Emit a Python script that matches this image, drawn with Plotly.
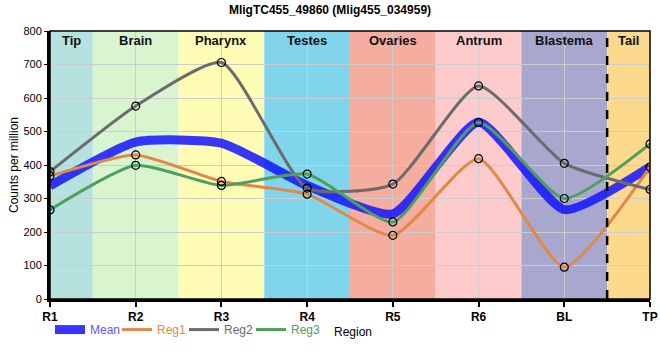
import plotly.graph_objects as go

categories = ["R1", "R2", "R3", "R4", "R5", "R6", "BL", "TP"]
reg1 = [367, 430, 351, 313, 190, 419, 95, 394]
reg2 = [380, 576, 706, 331, 343, 636, 405, 327]
reg3 = [266, 399, 339, 373, 230, 527, 300, 463]
mean = [round((a + b + c) / 3, 1) for a, b, c in zip(reg1, reg2, reg3)]

regions = ["Tip", "Brain", "Pharynx", "Testes", "Ovaries", "Antrum", "Blastema", "Tail"]
region_colors = ["#b5e2df", "#d9f5cf", "#fffdb5", "#80d5ec", "#f5ad9f", "#fdcbcb", "#a8a8cf", "#fdd98d"]

xs = list(range(len(categories)))
fig = go.Figure()

for i, (name, col) in enumerate(zip(regions, region_colors)):
    x0 = max(i - 0.5, 0)
    x1 = min(i + 0.5, len(categories) - 1)
    fig.add_shape(type="rect", xref="x", yref="paper", x0=x0, x1=x1, y0=0, y1=1,
                  fillcolor=col, line_width=0, layer="below")
    fig.add_annotation(x=(x0 + x1) / 2, y=1, xref="x", yref="paper", yanchor="top", yshift=0,
                       text="<b>" + name + "</b>", showarrow=False,
                       font=dict(size=13, color="#111", family="Arial"))

fig.add_shape(type="line", xref="x", yref="paper", x0=6.5, x1=6.5, y0=0, y1=1,
              line=dict(color="black", width=2.5, dash="dash"), layer="above")

SM = 0.55
fig.add_trace(go.Scatter(x=xs, y=mean, mode="lines", name="<span style='color:#5a5aff'>Mean</span>",
                         line=dict(color="rgba(20,20,255,0.85)", width=9, shape="spline", smoothing=SM)))
series = [("Reg1", reg1, "#e0884a"), ("Reg2", reg2, "#6b6b6b"), ("Reg3", reg3, "#4e9e5e")]
for name, vals, col in series:
    fig.add_trace(go.Scatter(x=xs, y=vals, mode="lines", name=f"<span style='color:{col}'>{name}</span>",
                             line=dict(color=col, width=3, shape="spline", smoothing=SM)))
# spacer legend entry so the last label is not clipped
fig.add_trace(go.Scatter(x=[None], y=[None], mode="lines", name=" ",
                         line=dict(width=0, color="rgba(0,0,0,0)"), hoverinfo="skip"))
for name, vals, col in series:
    fig.add_trace(go.Scatter(x=xs, y=vals, mode="markers", showlegend=False,
                             marker=dict(size=8, color="rgba(0,0,0,0)", line=dict(color="black", width=1.2))))

fig.update_layout(
    width=660, height=360,
    margin=dict(l=50, r=10, t=31, b=61, autoexpand=False),
    paper_bgcolor="white", plot_bgcolor="white",
    title=dict(text="<b>MligTC455_49860 (Mlig455_034959)</b>", x=0.5, xanchor="center", y=0.985, yanchor="top",
               font=dict(size=12, color="black", family="Arial")),
    font=dict(family="Arial", size=11, color="black"),
    showlegend=True,
    legend=dict(orientation="h", x=0.0, y=-0.06, xanchor="left", yanchor="top",
                font=dict(size=12, family="Arial"), bgcolor="rgba(0,0,0,0)", itemwidth=30,
                entrywidth=22, entrywidthmode="pixels"),
)
fig.add_annotation(x=0.47, y=-0.09, xref="paper", yref="paper", text="Region", showarrow=False,
                   xanchor="left", yanchor="top", font=dict(size=12, color="black"))

fig.update_xaxes(range=[0, 7], tickmode="array", tickvals=xs, ticktext=["<b>" + c + "</b>" for c in categories],
                 showgrid=True, gridcolor="#cccccc", gridwidth=1, zeroline=False, automargin=False,
                 showline=True, linecolor="black", linewidth=3, mirror=False,
                 ticks="outside", ticklen=5, tickwidth=2, tickcolor="black",
                 tickfont=dict(size=12, family="Arial", color="black"))
fig.update_yaxes(range=[0, 800], dtick=100, showgrid=True, gridcolor="#cccccc", gridwidth=1, zeroline=False,
                 automargin=False,
                 showline=True, linecolor="black", linewidth=3, mirror=False,
                 ticks="outside", ticklen=3, tickwidth=1, tickcolor="black",
                 title=dict(text="Counts per million", font=dict(size=12), standoff=3),
                 tickfont=dict(size=11, family="Arial", color="black"))

fig.add_shape(type="rect", xref="paper", yref="paper", x0=0, x1=1, y0=0, y1=1,
              line=dict(color="black", width=1.5), fillcolor="rgba(0,0,0,0)", layer="above")

fig.write_html("out.html", config={"displayModeBar": False},
               post_script="document.body.style.margin='0px';document.body.style.padding='0px';")
